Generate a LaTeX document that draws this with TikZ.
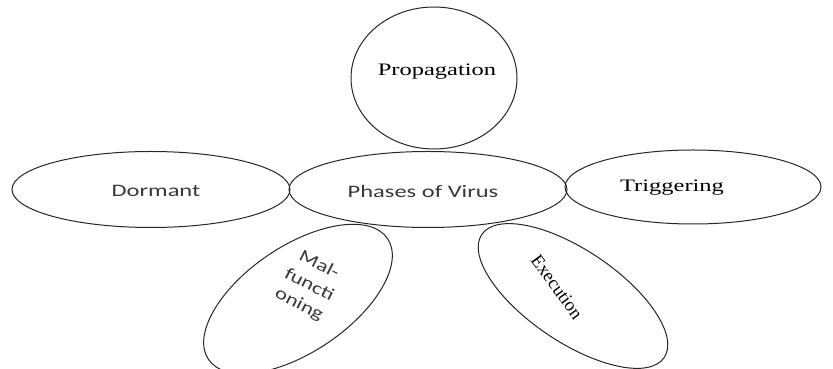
\documentclass[tikz,border=0pt]{standalone}
\usepackage{fontspec}
\newfontfamily\mysans{Carlito}
\newfontfamily\myserif{Liberation Serif}
\usetikzlibrary{shapes.geometric}
\definecolor{sanstext}{HTML}{383838}
\tikzset{
  bubble/.style={draw=black!85, line width=1pt, ellipse, inner sep=0pt, fill=none},
  sanslbl/.style={text=sanstext, inner sep=0pt, font=\mysans\fontsize{17.5}{22}\selectfont},
  seriflbl/.style={text=black, inner sep=0pt, font=\myserif\fontsize{17.5}{22}\selectfont},
}
\begin{document}
\begin{tikzpicture}[x=1pt,y=1pt]
\useasboundingbox (0,0) rectangle (833,369);
\clip (0,0) rectangle (833,369);
% shapes
\node[bubble, minimum width=166pt, minimum height=142pt] (prop) at (434,291) {};
\node[bubble, minimum width=278pt, minimum height=76pt] (dorm) at (151,179.5) {};
\node[bubble, minimum width=278pt, minimum height=76pt] (phase) at (428,179.5) {};
\node[bubble, minimum width=256pt, minimum height=74pt] (trig) at (693,182) {};
\node[bubble, minimum width=216pt, minimum height=106pt, rotate=34] (mal) at (298,70) {};
\node[bubble, minimum width=220pt, minimum height=92pt, rotate=-34] (exec) at (573,73) {};
% labels
\node[seriflbl] (tprop) at (437,297) {\scalebox{1.4}[1]{Propagation}};
\node[sanslbl] (tdorm) at (156,178) {\scalebox{1.4}[1]{Dormant}};
\node[sanslbl] (tphase) at (423,178) {\scalebox{1.4}[1]{Phases of Virus}};
\node[seriflbl] (ttrig) at (672,181) {\scalebox{1.4}[1]{Triggering}};
\node[sanslbl, rotate=-27, align=center] (tmal) at (309,84) {\scalebox{1.3}[1]{Mal-}\\\scalebox{1.3}[1]{functi}\\\scalebox{1.3}[1]{oning}};
\node[seriflbl, rotate=-54, font=\myserif\fontsize{18.4}{22}\selectfont] (texec) at (557,82) {Execution};
\end{tikzpicture}
\end{document}
